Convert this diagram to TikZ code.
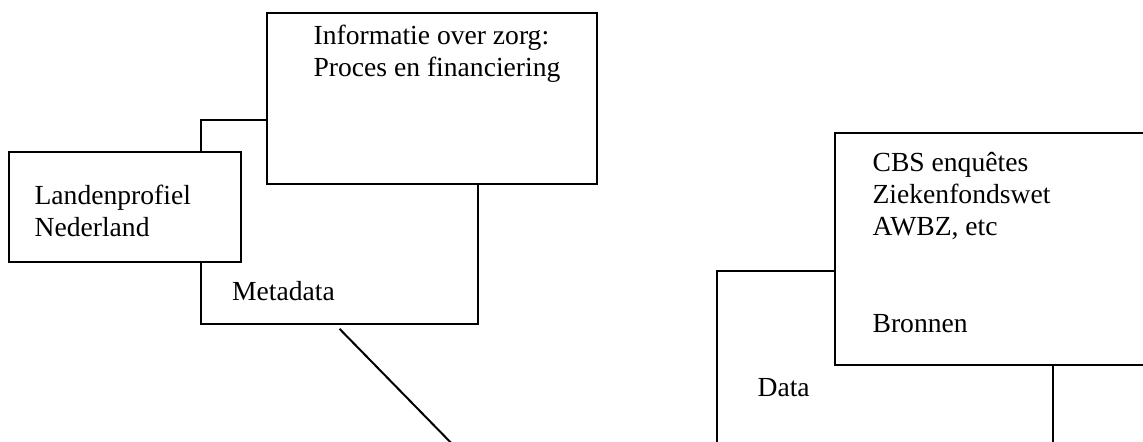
\documentclass[tikz,border=0pt]{standalone}
\usepackage{fontspec}
\setmainfont{Liberation Serif}
\usetikzlibrary{calc,positioning}

\begin{document}
\begin{tikzpicture}[x=0.5pt,y=-0.5pt,
  panel/.style={draw,fill=white,line width=0.8pt,inner sep=0pt},
  caption/.style={anchor=base west,align=left,inner sep=0pt,font=\fontsize{13.8}{16}\selectfont}]
  \useasboundingbox (0,0) rectangle (1143,442);
  \fill[white] (0,0) rectangle (1143,442);
  \clip (0,0) rectangle (1143,442);
  % left group: metadata behind, the two others on top
  \node[panel,minimum width=138.5pt,minimum height=102pt] (meta) at (339.5,222) {};
  \node[panel,minimum width=116pt,minimum height=55pt] (land) at (125,207) {};
  \node[panel,minimum width=165pt,minimum height=85.5pt] (info) at (432,98.5) {};
  \node[caption] (metatext) at ($(meta.north west)+(31.5,181)$) {Metadata};
  \node[caption] (landtext) at ($(land.north west)+(26,85)$) {Landenprofiel\\Nederland};
  \node[caption] (infotext) at ($(info.north west)+(47,64)$) {Informatie over zorg:\\Proces en financiering};
  % right group: data behind, bronnen on top
  \node[panel,minimum width=168pt,minimum height=124.5pt] (data) at (885,395.5) {};
  \node[panel,minimum width=182.5pt,minimum height=116pt] (bron) at (1017.5,249) {};
  \node[caption] (datatext) at ($(data.north west)+(41,126)$) {Data};
  \node[caption] (brontext) at ($(bron.north west)+(38,103)$) {CBS enquêtes\\Ziekenfondswet\\AWBZ, etc};
  \node[caption] (bronlabel) at ($(bron.north west)+(38,200)$) {Bronnen};
  % loose line below metadata
  \coordinate (lineend) at ($(meta.south)+(134,141)$);
  \draw[line width=1pt] ($(meta.south)+(0,4)$) -- (lineend);
\end{tikzpicture}
\end{document}
